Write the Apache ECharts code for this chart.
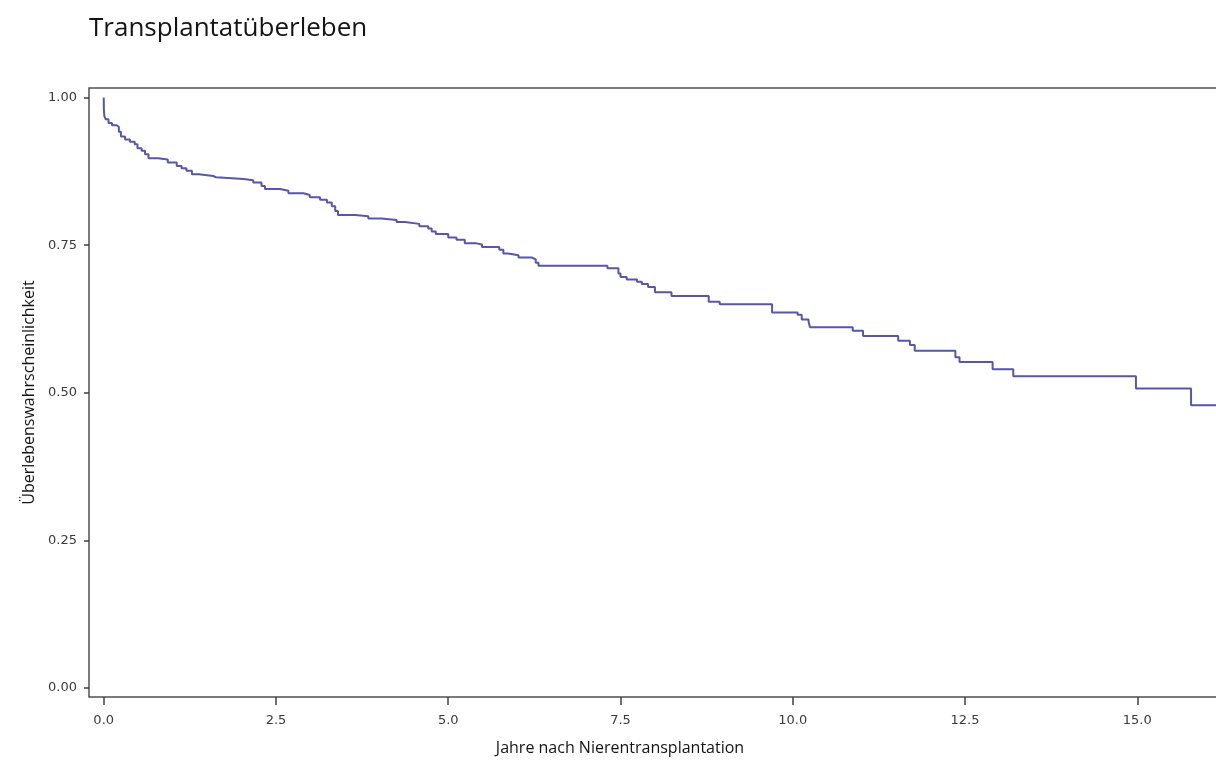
<!DOCTYPE html>
<html>
<head>
<meta charset="utf-8">
<title>Transplantatüberleben</title>
<script src="https://cdn.jsdelivr.net/npm/echarts@6/dist/echarts.min.js"></script>
<style>
  html, body { margin: 0; padding: 0; background: #ffffff; }
  #chart { width: 1216px; height: 760px; }
</style>
</head>
<body>
<div id="chart"></div>
<script>
// Kaplan-Meier estimate of graft survival: time of each step (years) and
// the survival probability right after that step.
const stepYears = [
  0, 0.003, 0.01, 0.03, 0.07, 0.12, 0.19, 0.22, 0.25, 0.31, 0.38, 0.45, 0.49,
  0.55, 0.60, 0.65, 0.79, 0.93, 1.06, 1.13, 1.20, 1.28, 1.38, 1.59, 1.63,
  2.03, 2.17, 2.29, 2.34, 2.56, 2.68, 2.90, 2.99, 3.14, 3.24, 3.31, 3.36,
  3.40, 3.65, 3.84, 4.03, 4.25, 4.37, 4.58, 4.71, 4.76, 4.82, 5.00, 5.12,
  5.24, 5.41, 5.49, 5.74, 5.80, 5.87, 6.02, 6.21, 6.27, 6.31, 7.31, 7.47,
  7.50, 7.59, 7.74, 7.81, 7.90, 8.00, 8.24, 8.78, 8.94, 9.70, 10.07, 10.13,
  10.23, 10.25, 10.87, 11.02, 11.53, 11.70, 11.77, 12.36, 12.42, 12.90,
  13.20, 14.98, 15.78, 17.0
];
const survival = [
  1.000, 0.978, 0.968, 0.963, 0.957, 0.953, 0.950, 0.942, 0.934, 0.929, 0.925, 0.921, 0.914,
  0.910, 0.904, 0.897, 0.895, 0.890, 0.884, 0.880, 0.876, 0.870, 0.867, 0.865, 0.862,
  0.860, 0.856, 0.850, 0.845, 0.842, 0.838, 0.835, 0.831, 0.827, 0.822, 0.816, 0.808,
  0.801, 0.799, 0.795, 0.7925, 0.789, 0.786, 0.782, 0.778, 0.773, 0.769, 0.763, 0.759,
  0.753, 0.751, 0.747, 0.742, 0.736, 0.733, 0.729, 0.726, 0.720, 0.715, 0.711, 0.702,
  0.696, 0.692, 0.688, 0.684, 0.679, 0.670, 0.664, 0.654, 0.650, 0.636, 0.632, 0.624,
  0.620, 0.611, 0.605, 0.596, 0.588, 0.581, 0.571, 0.560, 0.552, 0.540,
  0.528, 0.507, 0.479, 0.479
];

// Tick positions on both axes
const xTicks = [0, 2.5, 5, 7.5, 10, 12.5, 15];
const yTicks = [0, 0.25, 0.5, 0.75, 1];

const chartTitle = 'Transplantatüberleben';
const xTitle = 'Jahre nach Nierentransplantation';
const yTitle = 'Überlebenswahrscheinlichkeit';

const points = stepYears.map((t, i) => [t, survival[i]]);

// Scale: 68.9 px per year; the plot runs on past the right edge of the page
const pxPerYear = 68.907;
const xMin = -0.2133, xMax = 17.0;
const yMin = -0.01524, yMax = 1.0161;

const chart = echarts.init(document.getElementById('chart'), null, { renderer: 'canvas' });

const tickLabelStyle = {
  color: '#3a3a3a',
  fontFamily: '"DejaVu Sans", Verdana, sans-serif',
  fontSize: 13
};
const titleFont = '"Open Sans", "Noto Sans", sans-serif';

chart.setOption({
  animation: false,
  backgroundColor: '#ffffff',
  title: {
    text: chartTitle,
    left: 89,
    top: 16,
    padding: 0,
    textStyle: {
      color: '#141414',
      fontFamily: titleFont,
      fontSize: 26,
      fontWeight: 'normal'
    }
  },
  grid: {
    left: 89,
    top: 88,
    width: (xMax - xMin) * pxPerYear,
    height: 609,
    outerBoundsMode: 'none',
    containLabel: false,
    show: true,
    borderColor: '#505050',
    borderWidth: 1.5,
    backgroundColor: 'transparent'
  },
  xAxis: {
    type: 'value',
    min: xMin,
    max: xMax,
    axisLine: { show: false, onZero: false },
    splitLine: { show: false },
    axisTick: {
      show: true,
      length: 8,
      customValues: xTicks,
      lineStyle: { color: '#404040', width: 1.5 }
    },
    axisLabel: {
      customValues: xTicks,
      margin: 17,
      formatter: v => v.toFixed(1),
      ...tickLabelStyle
    }
  },
  yAxis: {
    type: 'value',
    min: yMin,
    max: yMax,
    name: yTitle,
    nameLocation: 'middle',
    nameGap: 46,
    nameRotate: 90,
    nameTextStyle: {
      color: '#141414',
      fontFamily: titleFont,
      fontSize: 16
    },
    axisLine: { show: false, onZero: false },
    splitLine: { show: false },
    axisTick: {
      show: true,
      length: 5,
      customValues: yTicks,
      lineStyle: { color: '#404040', width: 1.5 }
    },
    axisLabel: {
      customValues: yTicks,
      margin: 12,
      formatter: v => v.toFixed(2),
      ...tickLabelStyle
    }
  },
  graphic: [{
    type: 'text',
    x: 620,
    y: 748,
    style: {
      text: xTitle,
      fill: '#141414',
      font: '16px "Open Sans", "Noto Sans", sans-serif',
      textAlign: 'center',
      textVerticalAlign: 'middle'
    }
  }],
  series: [{
    type: 'line',
    step: 'end',
    data: points,
    showSymbol: false,
    symbol: 'none',
    clip: true,
    lineStyle: { color: '#5656ab', width: 2 }
  }]
});
</script>
</body>
</html>
